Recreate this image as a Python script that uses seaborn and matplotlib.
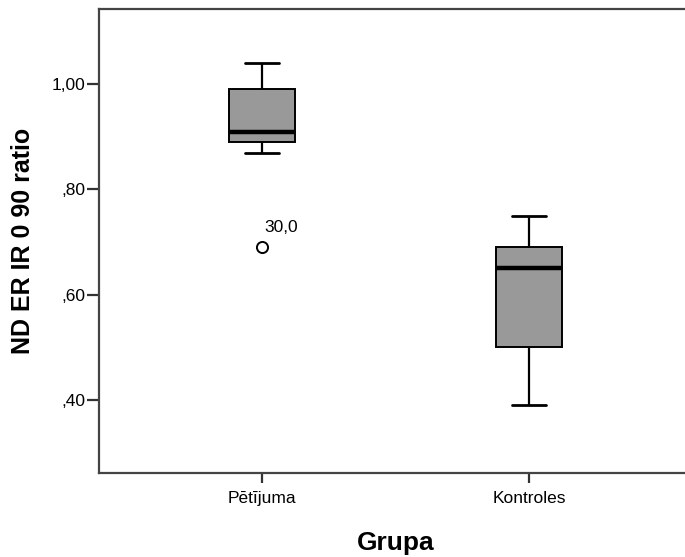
import pandas as pd
import seaborn as sns
import matplotlib.pyplot as plt
from matplotlib.ticker import FixedLocator, FuncFormatter

# groups and values
# (9 cases each so the quartiles land on the drawn hinges)
groups = ['Pētījuma', 'Kontroles']
petijuma_vals = [0.69, 0.87, 0.89, 0.90, 0.91, 0.95, 0.99, 1.02, 1.04]
kontroles_vals = [0.39, 0.45, 0.50, 0.60, 0.65, 0.67, 0.69, 0.72, 0.75]
outlier_label = '30,0'
outlier_value = 0.69
y_ticks = [0.40, 0.60, 0.80, 1.00]

df = pd.DataFrame({
    'Grupa': [groups[0]] * len(petijuma_vals) + [groups[1]] * len(kontroles_vals),
    'ratio': petijuma_vals + kontroles_vals,
})

sns.set_style('white')
plt.rcParams['font.family'] = ['Liberation Sans', 'DejaVu Sans']
plt.rcParams['text.color'] = 'black'
plt.rcParams['axes.labelcolor'] = 'black'
plt.rcParams['xtick.labelcolor'] = 'black'
plt.rcParams['ytick.labelcolor'] = 'black'

fig = plt.figure(figsize=(6.85, 5.57), dpi=100)
ax = fig.add_axes([99 / 685, 84 / 557, 593 / 685, 464 / 557])

sns.boxplot(data=df, x='Grupa', y='ratio', order=groups, ax=ax,
            width=0.25, color='#999999', saturation=1, linecolor='black',
            linewidth=1.4,
            medianprops={'linewidth': 3.2, 'color': 'black'},
            whiskerprops={'linewidth': 1.6},
            capprops={'linewidth': 2.0},
            flierprops={'marker': 'o', 'markersize': 8, 'markerfacecolor': 'white',
                        'markeredgecolor': 'black', 'markeredgewidth': 1.4})

ax.annotate(outlier_label, xy=(0, outlier_value), xytext=(2, 11),
            textcoords='offset points', ha='left', va='baseline', fontsize=12.5)

ax.set_xlim(-0.61, 1.61)
ax.set_ylim(0.261, 1.143)
ax.yaxis.set_major_locator(FixedLocator(y_ticks))
ax.yaxis.set_major_formatter(FuncFormatter(lambda v, p: f'{v:.2f}'.replace('0.', ',').replace('1.', '1,')))

ax.spines['right'].set_visible(False)
for s in ax.spines.values():
    s.set_color('#444444')
    s.set_linewidth(1.6)

ax.tick_params(axis='x', direction='out', length=7, width=1.6, color='#333333',
               labelsize=12.5, bottom=True, pad=6)
ax.tick_params(axis='y', direction='out', length=8.5, width=1.6, color='#333333',
               labelsize=12.5, left=True, pad=1)

ax.set_xlabel('Grupa', fontsize=19, fontweight='bold', labelpad=18)
ax.set_ylabel('ND ER IR 0 90 ratio', fontsize=18, fontweight='bold', labelpad=12)

plt.savefig('out.png', dpi=100)
